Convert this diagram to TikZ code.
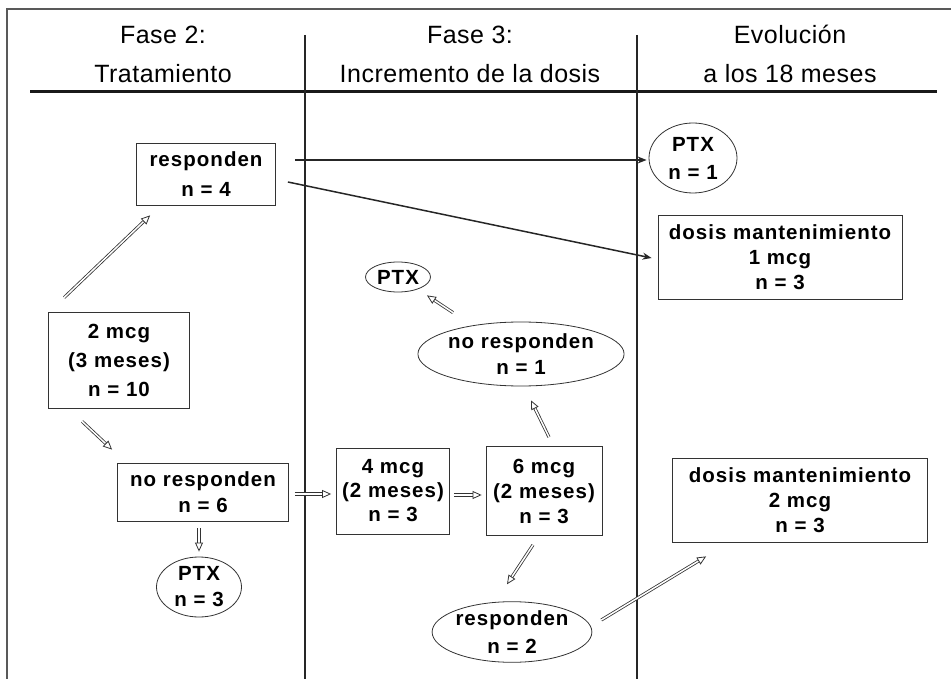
\documentclass[tikz,border=0pt]{standalone}
\usepackage{fontspec}
\setmainfont{Liberation Sans}
\newfontfamily\hdfont[LetterSpace=2]{Liberation Sans}
\newfontfamily\ndfont[LetterSpace=5]{Liberation Sans}
\usetikzlibrary{arrows.meta,shapes.geometric}
\tikzset{
  box/.style={draw=black!80, line width=0.8pt, rectangle, inner sep=0pt, align=center,
    font=\ndfont\bfseries\fontsize{20.5}{25}\selectfont},
  oval/.style={draw=black!80, line width=0.8pt, ellipse, inner sep=0pt, align=center,
    font=\ndfont\bfseries\fontsize{20.5}{25}\selectfont},
  hdtext/.style={align=center, inner sep=0pt, font=\hdfont\fontsize{25}{39}\selectfont},
  solidarrow/.style={draw=black!85, line width=1.5pt, -{Stealth[length=9pt,width=7pt]}},
  hollow/.style={draw=black!80, double=white, double distance=1.5pt, line width=0.8pt,
    -{Triangle[open,length=9pt,width=8pt]}},
  rule/.style={draw=black!85, line width=1.4pt},
  framerule/.style={draw=black!65, line width=2pt}
}
\begin{document}
\begin{tikzpicture}[x=1pt,y=-1pt]
\useasboundingbox (0,0) rectangle (951,679);
% frame
\draw[framerule] (951,9) -- (7,9) -- (7,679);
% header
\node[hdtext] (h1) at (163,54) {Fase 2:\\Tratamiento};
\node[hdtext] (h2) at (470,54) {Fase 3:\\Incremento de la dosis};
\node[hdtext] (h3) at (790,54) {Evolución\\a los 18 meses};
\draw[draw=black!90, line width=3pt] (30,92) -- (937,92);
\draw[rule] (305,35) -- (305,679);
\draw[rule] (637,35) -- (637,679);
% nodes
\node[box, minimum width=139pt, minimum height=62pt, font=\ndfont\bfseries\fontsize{20.5}{30}\selectfont] (r4) at (206,174) {responden\\n = 4};
\node[box, minimum width=141pt, minimum height=96pt, font=\ndfont\bfseries\fontsize{20.5}{29}\selectfont] (n10) at (119,360) {2 mcg\\(3 meses)\\n = 10};
\node[box, minimum width=171pt, minimum height=58pt, font=\ndfont\bfseries\fontsize{20.5}{26}\selectfont] (no6) at (203,492) {no responden\\n = 6};
\node[oval, minimum width=85pt, minimum height=60pt, font=\ndfont\bfseries\fontsize{20.5}{26}\selectfont] (ptx3) at (199,587) {PTX\\n = 3};
\node[box, minimum width=113pt, minimum height=86pt, font=\ndfont\bfseries\fontsize{20.5}{24}\selectfont] (m4) at (393,491) {4 mcg\\(2 meses)\\n = 3};
\node[box, minimum width=116pt, minimum height=89pt] (m6) at (544,491) {6 mcg\\(2 meses)\\n = 3};
\node[oval, minimum width=179pt, minimum height=64pt, font=\ndfont\bfseries\fontsize{20.5}{26}\selectfont] (nr1) at (521,354) {no responden\\n = 1};
\node[oval, minimum width=65pt, minimum height=30pt] (ptx) at (398,277) {PTX};
\node[oval, minimum width=138pt, minimum height=55pt, font=\ndfont\bfseries\fontsize{20.5}{28}\selectfont] (r2) at (512,632) {responden\\n = 2};
\node[box, minimum width=255pt, minimum height=84pt] (d2) at (800,500) {dosis mantenimiento\\2 mcg\\n = 3};
\node[oval, minimum width=88pt, minimum height=70pt, font=\ndfont\bfseries\fontsize{20.5}{28}\selectfont] (ptx1) at (693,158) {PTX\\n = 1};
\node[box, minimum width=244pt, minimum height=84pt] (d1) at (780,257) {dosis mantenimiento\\1 mcg\\n = 3};
% connectors
\draw[hollow] ([xshift=16pt,yshift=14pt]n10.north west) -- ([xshift=14pt,yshift=-10pt]r4.south west);
\draw[hollow] ([xshift=34pt,yshift=-13pt]n10.south west) -- ([xshift=-5pt,yshift=13pt]no6.north west);
\draw[hollow] ([xshift=-4pt,yshift=-7pt]no6.south) -- ([yshift=5pt]ptx3.north);
\draw[hollow] ([xshift=6pt,yshift=-2pt]no6.east) -- ([xshift=-5pt,yshift=-3pt]m4.west);
\draw[hollow] ([xshift=4pt,yshift=-4pt]m4.east) -- ([xshift=-4pt,yshift=-4pt]m6.west);
\draw[hollow] ([xshift=5pt,yshift=9pt]m6.north) -- ([xshift=10pt,yshift=-14pt]nr1.south);
\draw[hollow] ([xshift=-68pt,yshift=9pt]nr1.north) -- ([xshift=29pt,yshift=-3pt]ptx.south);
\draw[hollow] ([xshift=-11pt,yshift=-9pt]m6.south) -- ([xshift=-5pt,yshift=17pt]r2.north);
\draw[hollow] ([xshift=9pt,yshift=12pt]r2.east) -- ([xshift=34pt,yshift=-14pt]d2.south west);
\draw[solidarrow] ([xshift=19pt,yshift=14pt]r4.east) -- ([xshift=-2pt,yshift=-2pt]ptx1.west);
\draw[solidarrow] ([xshift=12pt,yshift=-8pt]r4.east) -- ([xshift=-6pt,yshift=-1pt]d1.west);
\end{tikzpicture}
\end{document}
